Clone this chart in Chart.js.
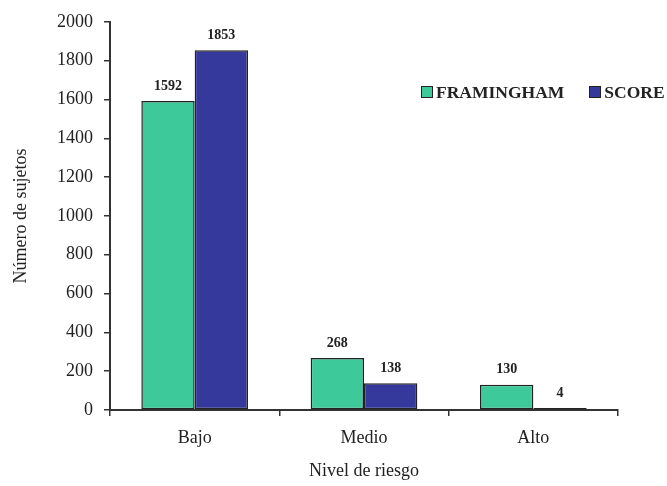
<!DOCTYPE html>
<html>
<head>
<meta charset="utf-8">
<script src="https://cdn.jsdelivr.net/npm/chart.js@4"></script>
<style>
  body { margin: 0; background: #fff; }
  #wrap { position: relative; width: 667px; height: 486px; overflow: hidden; }
  #legend {
    position: absolute; left: 421px; top: 82px; white-space: nowrap;
    font: bold 17.5px "Liberation Serif", serif; color: #222;
  }
  #legend span.box {
    display: inline-block; width: 10px; height: 10px; border: 1.5px solid #222;
    vertical-align: 0px; margin-right: 3px;
  }
</style>
</head>
<body>
<div id="wrap">
  <canvas id="chart" width="667" height="486"></canvas>
  <div id="legend"></div>
</div>
<script>
const categories = ['Bajo', 'Medio', 'Alto'];
const framingham = [1592, 268, 130];
const score = [1853, 138, 4];
const seriesNames = ['FRAMINGHAM', 'SCORE'];
const seriesColors = ['#3ec99a', '#35399c'];

const ctx = document.getElementById('chart');

// legend as html text
document.getElementById('legend').innerHTML = seriesNames.map((n, i) =>
    '<span class="box" style="background:' + seriesColors[i] + '"></span>' + n
).join('<span style="display:inline-block;width:25px"></span>');

const valueLabels = {
    id: 'valueLabels',
    afterDatasetsDraw(chart) {
        const c = chart.ctx;
        c.save();
        c.font = 'bold 14px "Liberation Serif", serif';
        c.fillStyle = '#222';
        c.textAlign = 'center';
        c.textBaseline = 'bottom';
        chart.data.datasets.forEach((ds, i) => {
            chart.getDatasetMeta(i).data.forEach((bar, j) => {
                c.fillText(ds.data[j], bar.x, bar.y - 8);
            });
        });
        c.restore();
    }
};

new Chart(ctx, {
    type: 'bar',
    data: {
        labels: categories,
        datasets: [
            {
                label: seriesNames[0],
                data: framingham,
                backgroundColor: seriesColors[0],
                borderColor: '#222',
                borderWidth: 1.5,
                borderSkipped: false
            },
            {
                label: seriesNames[1],
                data: score,
                backgroundColor: seriesColors[1],
                borderColor: '#222',
                borderWidth: 1.5,
                borderSkipped: false,
                minBarLength: 2
            }
        ]
    },
    options: {
        responsive: false,
        animation: false,
        datasets: {
            bar: { barPercentage: 1, categoryPercentage: 0.63 }
        },
        layout: {
            padding: { top: 20, right: 49, left: 0, bottom: 0 }
        },
        plugins: {
            legend: { display: false },
            tooltip: { enabled: false }
        },
        scales: {
            x: {
                grid: {
                    drawOnChartArea: false,
                    color: '#333',
                    tickLength: 6,
                    lineWidth: 1.5
                },
                border: { color: '#333', width: 2 },
                ticks: {
                    color: '#222',
                    padding: 11,
                    font: { family: 'Liberation Serif', size: 18 }
                },
                title: {
                    display: true,
                    text: 'Nivel de riesgo',
                    color: '#222',
                    padding: { top: 8 },
                    font: { family: 'Liberation Serif', size: 18 }
                },
                afterFit(scale) { scale.height = 76; }
            },
            y: {
                min: 0,
                max: 2000,
                ticks: {
                    stepSize: 200,
                    color: '#222',
                    padding: 11,
                    font: { family: 'Liberation Serif', size: 18 },
                    callback: v => String(v)
                },
                grid: {
                    drawOnChartArea: false,
                    color: '#333',
                    tickLength: 6,
                    lineWidth: 1.5
                },
                border: { color: '#333', width: 2 },
                title: {
                    display: true,
                    text: 'Número de sujetos',
                    color: '#222',
                    padding: { top: 10, bottom: 0 },
                    font: { family: 'Liberation Serif', size: 18 }
                },
                afterFit(scale) { scale.width = 110; }
            }
        }
    },
    plugins: [valueLabels]
});
</script>
</body>
</html>
